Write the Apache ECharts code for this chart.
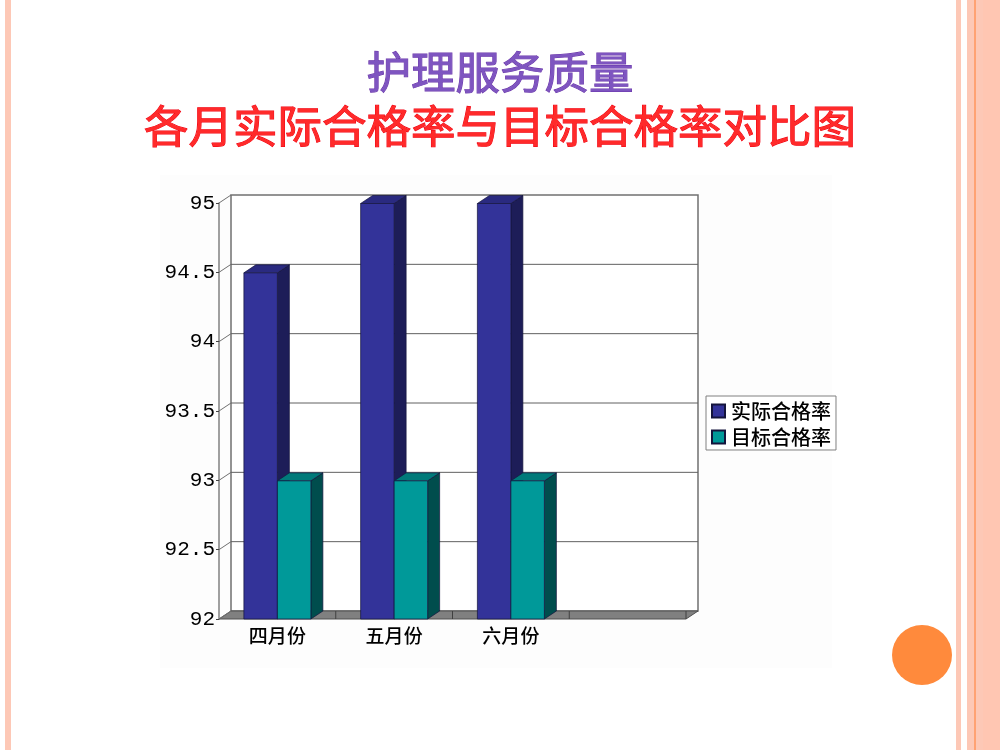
<!DOCTYPE html>
<html>
<head>
<meta charset="utf-8">
<style>html,body{margin:0;padding:0;background:#fff}#c{width:1000px;height:750px}</style>
<script src="https://cdn.jsdelivr.net/npm/echarts@6/dist/echarts.min.js"></script>
</head>
<body>
<div id="c"></div>
<script>
const categories = ['四月份', '五月份', '六月份', ''];
const actualRate = [94.5, 95, 95];
const targetRate = [93, 93, 93];
const yTicks = [92, 92.5, 93, 93.5, 94, 94.5, 95];
const boundaries = [1, 2, 3, 4];
const seriesNames = ['实际合格率', '目标合格率'];
const titleLines = ['护理服务质量', '各月实际合格率与目标合格率对比图'];

const DX = 12, DY = 8;
const BAR = 33.5;
const cjk = '"Noto Sans CJK SC", sans-serif';
const chart = echarts.init(document.getElementById('c'), null, { renderer: 'canvas' });

function bar3d(side, faces) {
  return function (params, api) {
    const base = api.coord([api.value(0), 92]);
    const top = api.coord([api.value(0), api.value(1)]);
    const x0 = side < 0 ? base[0] - BAR : base[0];
    const x1 = x0 + BAR;
    const y0 = base[1], y1 = top[1] + 0.5;
    const line = { stroke: '#14143c', lineWidth: 0.7 };
    return {
      type: 'group',
      children: [
        { type: 'polygon', shape: { points: [[x1, y0], [x1 + DX, y0 - DY], [x1 + DX, y1 - DY], [x1, y1]] }, style: Object.assign({ fill: faces.side }, line) },
        { type: 'polygon', shape: { points: [[x0, y1], [x0 + DX, y1 - DY], [x1 + DX, y1 - DY], [x1, y1]] }, style: Object.assign({ fill: faces.top }, line) },
        { type: 'rect', shape: { x: x0, y: y1, width: BAR, height: y0 - y1 }, style: Object.assign({ fill: faces.front }, line) }
      ]
    };
  };
}

const stripes = [
  [5, 6, '#fdc8b6'], [956, 5, '#fdc8b6'], [967, 7, '#fdc8b6'], [974, 2, '#ffa273'],
  [976, 7, '#fdc8b6'], [983, 17, '#ffc6b2']
];

chart.setOption({
  animation: false,
  backgroundColor: '#ffffff',
  graphic: [
    { type: 'rect', silent: true, z: -10, shape: { x: 160, y: 175, width: 672, height: 493 }, style: { fill: '#fdfdfd' } }
  ].concat(stripes.map(s => ({ type: 'rect', silent: true, z: -5, shape: { x: s[0], y: 0, width: s[1], height: 750 }, style: { fill: s[2] } })))
   .concat([{ type: 'circle', silent: true, z: -5, shape: { cx: 922, cy: 655, r: 30 }, style: { fill: '#ff8a3c' } }]),
  title: [
    { text: titleLines[0], left: 'center', top: 45, textStyle: { fontFamily: cjk, fontWeight: 400, fontSize: 44.5, color: '#7e55c0', textBorderColor: '#6a35a8', textBorderWidth: 1 } },
    { text: titleLines[1], left: 'center', top: 99, textStyle: { fontFamily: cjk, fontWeight: 400, fontSize: 44.5, color: '#ff2a2a', textBorderColor: '#f00010', textBorderWidth: 1 } }
  ],
  legend: {
    orient: 'vertical', left: 706, top: 396,
    data: seriesNames.map(n => ({ name: n, icon: 'rect' })),
    itemWidth: 13, itemHeight: 13, itemGap: 6,
    padding: [5, 5, 3, 5],
    borderColor: '#808080', borderWidth: 1, backgroundColor: '#ffffff',
    selectedMode: false,
    textStyle: { fontFamily: cjk, fontSize: 20, fontWeight: 500, color: '#000', padding: [0, 0, 0, 1] }
  },
  grid: { left: 219, right: 314, top: 203, bottom: 131, containLabel: false },
  xAxis: {
    type: 'category', data: categories,
    axisLine: { show: false }, axisTick: { show: false }, splitLine: { show: false },
    axisLabel: { margin: 7, fontFamily: cjk, fontSize: 19, fontWeight: 500, color: '#000', interval: 0 }
  },
  yAxis: {
    type: 'value', min: 92, max: 95, interval: 0.5,
    axisLine: { show: true, lineStyle: { color: '#808080', width: 1.5 } },
    axisTick: { show: true, length: 3, lineStyle: { color: '#444' } },
    splitLine: { show: false },
    axisLabel: { margin: 4, fontFamily: '"Liberation Mono", monospace', fontSize: 21, color: '#000', formatter: v => String(v) }
  },
  series: [
    {
      type: 'custom', name: 'wall', silent: true, z: 1, clip: false,
      data: [[0]],
      encode: { x: 0 },
      renderItem: function (p, api) {
        const bl = api.coord([0, 92]), tl = api.coord([0, 95]);
        const w = api.size([1, 0])[0] * categories.length;
        const left = bl[0] - w / categories.length / 2;
        const pts = { x: left + DX, y: tl[1] - DY, width: w, height: bl[1] - tl[1] };
        return {
          type: 'group',
          children: [
            { type: 'rect', shape: pts, style: { fill: '#fff', stroke: '#707070', lineWidth: 1.5 } },
            { type: 'polygon', shape: { points: [[left, bl[1]], [left + DX, bl[1] - DY], [left + DX + w, bl[1] - DY], [left + w, bl[1]]] }, style: { fill: '#808080', stroke: '#505050', lineWidth: 1 } }
          ]
        };
      }
    },
    {
      type: 'custom', name: 'grid3d', silent: true, z: 1, clip: false,
      data: yTicks.map(v => [0, v]),
      encode: { x: 0, y: 1 },
      renderItem: function (p, api) {
        const c = api.coord([0, api.value(1)]);
        const w = api.size([1, 0])[0] * categories.length;
        const left = c[0] - w / categories.length / 2;
        const children = [
          { type: 'line', shape: { x1: left, y1: c[1], x2: left + DX, y2: c[1] - DY }, style: { stroke: '#707070', lineWidth: 1 } }
        ];
        if (api.value(1) > 92 && api.value(1) < 95) {
          children.push({ type: 'line', shape: { x1: left + DX, y1: c[1] - DY, x2: left + DX + w, y2: c[1] - DY }, style: { stroke: '#606060', lineWidth: 1 } });
        }
        return { type: 'group', children };
      }
    },
    {
      type: 'custom', name: 'floorTicks', silent: true, z: 2, clip: false,
      data: boundaries.map(b => [b]),
      encode: { x: 0 },
      renderItem: function (p, api) {
        const base = api.coord([0, 92]);
        const band = api.size([1, 0])[0];
        const x = base[0] - band / 2 + band * api.value(0);
        return { type: 'line', shape: { x1: x, y1: base[1] - DY, x2: x, y2: base[1] }, style: { stroke: '#404040', lineWidth: 1 } };
      }
    },
    {
      type: 'custom', name: seriesNames[0], z: 3, clip: false,
      itemStyle: { color: '#333399', borderColor: '#14143c', borderWidth: 1 },
      data: actualRate.map((v, i) => [i, v]),
      encode: { x: 0, y: 1 },
      renderItem: bar3d(-1, { front: '#333399', top: '#2a2a80', side: '#1d1d58' })
    },
    {
      type: 'custom', name: seriesNames[1], z: 4, clip: false,
      itemStyle: { color: '#009999', borderColor: '#14143c', borderWidth: 1 },
      data: targetRate.map((v, i) => [i, v]),
      encode: { x: 0, y: 1 },
      renderItem: bar3d(1, { front: '#009999', top: '#007a7a', side: '#004d4d' })
    }
  ]
});
</script>
</body>
</html>
